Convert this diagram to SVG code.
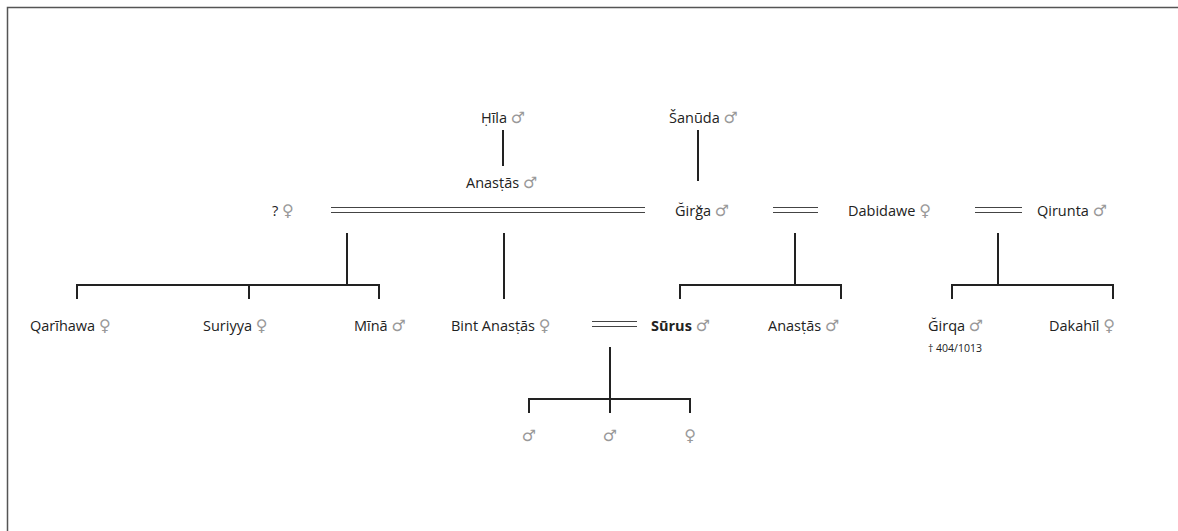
<svg xmlns="http://www.w3.org/2000/svg" width="1178" height="531" viewBox="0 0 1178 531">
<style>
.t{font-family:"Open Sans","Noto Sans","DejaVu Sans",sans-serif;font-size:14.5px;fill:#222}
.b{font-weight:bold}
.s{font-family:"DejaVu Sans",sans-serif;fill:#999;font-size:16px}
.small{font-family:"Open Sans","Noto Sans",sans-serif;font-size:10.5px;fill:#222}
.ln{stroke:#222;stroke-width:2;fill:none}
.dbl{stroke:#444;stroke-width:1.2;fill:none}
</style>
<rect x="7.5" y="7.5" width="1175" height="540" fill="#fff" stroke="#555" stroke-width="1.5"/>
<g id="connectors">
<path class="ln" d="M503 130V166M698 130V181"/>
<path class="dbl" d="M331 207.5H645M331 212.5H645M773 207.5H818M773 212.5H818M975 207.5H1022M975 212.5H1022M592 321.5H637M592 326.5H637"/>
<path class="ln" d="M347 233V285M77 299V285H379V299M249 285V299"/>
<path class="ln" d="M504 233V299"/>
<path class="ln" d="M795 233V285M680 299V285H841V299"/>
<path class="ln" d="M998 233V285M952 299V285H1113V299"/>
<path class="ln" d="M610 347V413M529 413V399H690V413"/>
</g>
<g id="hila"><text class="t" x="481" y="123">Ḥīla <tspan class="s">♂</tspan></text></g>
<g id="sanuda"><text class="t" x="669" y="123">Šanūda <tspan class="s">♂</tspan></text></g>
<g id="anastas1"><text class="t" x="466" y="188">Anasṭās <tspan class="s">♂</tspan></text></g>
<g id="unknown"><text class="t" x="272" y="216">? <tspan class="s">♀</tspan></text></g>
<g id="girga"><text class="t" x="675" y="216">Ğirğa <tspan class="s">♂</tspan></text></g>
<g id="dabidawe"><text class="t" x="848" y="216">Dabidawe <tspan class="s">♀</tspan></text></g>
<g id="qirunta"><text class="t" x="1037" y="216">Qirunta <tspan class="s">♂</tspan></text></g>
<g id="qarihawa"><text class="t" x="30" y="331">Qarīhawa <tspan class="s">♀</tspan></text></g>
<g id="suriyya"><text class="t" x="203" y="331">Suriyya <tspan class="s">♀</tspan></text></g>
<g id="mina"><text class="t" x="354" y="331">Mīnā <tspan class="s">♂</tspan></text></g>
<g id="bint"><text class="t" x="451" y="331">Bint Anasṭās <tspan class="s">♀</tspan></text></g>
<g id="surus"><text class="t" x="651" y="331"><tspan class="b">Sūrus</tspan> <tspan class="s">♂</tspan></text></g>
<g id="anastas2"><text class="t" x="768" y="331">Anasṭās <tspan class="s">♂</tspan></text></g>
<g id="girqa"><text class="t" x="928" y="331">Ğirqa <tspan class="s">♂</tspan></text><text class="small" x="928" y="352">† 404/1013</text></g>
<g id="dakahil"><text class="t" x="1049" y="331">Dakahīl <tspan class="s">♀</tspan></text></g>
<g id="child1"><text class="s" x="529" y="441" text-anchor="middle">♂</text></g>
<g id="child2"><text class="s" x="610" y="441" text-anchor="middle">♂</text></g>
<g id="child3"><text class="s" x="690" y="441" text-anchor="middle">♀</text></g>
</svg>
